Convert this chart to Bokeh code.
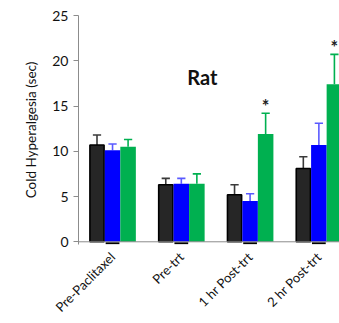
from math import pi
from bokeh.plotting import figure
from bokeh.models import ColumnDataSource, Range1d, FixedTicker, Label, Span
from bokeh.core.properties import value
from bokeh.embed import file_html
from bokeh.resources import INLINE

categories = ["Pre-Paclitaxel", "Pre-trt", "1 hr Post-trt", "2 hr Post-trt"]
black_vals = [10.7, 6.3, 5.2, 8.1]
black_err = [1.1, 0.7, 1.1, 1.3]
blue_vals = [10.1, 6.4, 4.5, 10.7]
blue_err = [0.7, 0.6, 0.8, 2.4]
green_vals = [10.5, 6.4, 11.9, 17.4]
green_err = [0.8, 1.1, 2.3, 3.3]
green_sig = ["", "", "*", "*"]
y_ticks = [0, 5, 10, 15, 20, 25]

FONT = "Lato"
idx = list(range(len(categories)))
W = 0.226
CAP = 0.06

p = figure(width=339, height=323, output_backend="svg", toolbar_location=None,
           x_range=Range1d(-0.495, 3.30), y_range=Range1d(-0.3, 25),
           min_border_left=78, min_border_right=0, min_border_top=15, min_border_bottom=79)
p.outline_line_color = None
p.grid.grid_line_color = None
p.background_fill_color = "white"

series = [
    (black_vals, black_err, -W, "#262626", "#000000", "#3a3a3a"),
    (blue_vals, blue_err, 0.0, "#0000ff", None, "#5a5aff"),
    (green_vals, green_err, W, "#00b050", None, "#00b050"),
]

for vals, errs, off, fill, line, ecol in series:
    xs = [i + off for i in idx]
    tops = [v + e for v, e in zip(vals, errs)]
    src = ColumnDataSource(dict(x=xs, top=vals, etop=tops,
                                cl=[x - CAP for x in xs], cr=[x + CAP for x in xs]))
    p.segment(x0="x", y0="top", x1="x", y1="etop", source=src, line_color=ecol, line_width=1.6)
    p.segment(x0="cl", y0="etop", x1="cr", y1="etop", source=src, line_color=ecol, line_width=1.6)
    if line is None:
        p.vbar(x="x", top="top", bottom=0, width=W, source=src, fill_color=fill, line_color=None)
    else:
        p.vbar(x="x", top="top", bottom=0, width=W - 0.02, source=src, fill_color=fill,
               line_color=line, line_width=1.6)

# baseline of the value axis
p.add_layout(Span(location=0, dimension="width", line_color="#8c8c8c", line_width=1))

# significance marks
sig_src = ColumnDataSource(dict(x=[i + W for i in idx],
                                y=[v + e + 0.8 for v, e in zip(green_vals, green_err)],
                                t=green_sig))
p.text(x="x", y="y", text="t", source=sig_src, text_align="center", text_baseline="middle",
       text_font=value(FONT), text_font_size="18px", text_font_style="bold", text_color="#222222")

# small dashes below baseline under each group
dash_src = ColumnDataSource(dict(x0=[i - 0.1 for i in idx], x1=[i + 0.1 for i in idx],
                                 y=[-0.15] * len(idx)))
p.segment(x0="x0", y0="y", x1="x1", y1="y", source=dash_src, line_color="black", line_width=2)

p.add_layout(Label(x=1.307, y=18.26, text="Rat", text_font=FONT, text_font_size="20px",
                   text_font_style="bold", text_align="center", text_baseline="middle",
                   text_color="#111111"))

xa = p.xaxis[0]
xa.ticker = FixedTicker(ticks=idx)
xa.major_label_overrides = {i: c for i, c in zip(idx, categories)}
xa.major_label_orientation = pi / 4
xa.major_tick_line_color = None
xa.major_tick_out = 0
xa.major_tick_in = 0
xa.minor_tick_line_color = None
xa.axis_line_color = None
xa.major_label_text_font = FONT
xa.major_label_text_font_size = "13px"
xa.major_label_text_color = "#111111"
xa.major_label_standoff = 10

ya = p.yaxis[0]
ya.ticker = FixedTicker(ticks=y_ticks)
ya.minor_tick_line_color = None
ya.major_tick_out = 5
ya.major_tick_in = 0
ya.major_tick_line_color = "#8c8c8c"
ya.axis_line_color = "#8c8c8c"
ya.major_label_text_font = FONT
ya.major_label_text_font_size = "14px"
ya.major_label_text_color = "#111111"
ya.major_label_standoff = 5
ya.axis_label = "Cold Hyperalgesia (sec)"
ya.axis_label_text_font = FONT
ya.axis_label_text_font_size = "13.5px"
ya.axis_label_text_font_style = "normal"
ya.axis_label_text_color = "#111111"
ya.axis_label_standoff = 10

open("out.html", "w").write(file_html(p, INLINE))
